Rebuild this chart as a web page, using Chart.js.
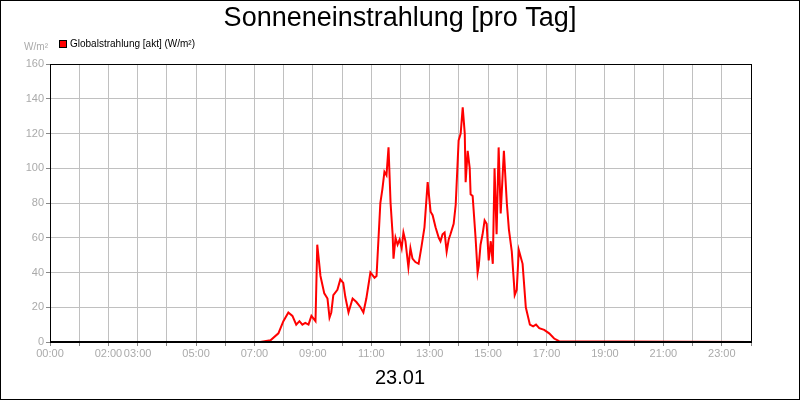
<!DOCTYPE html>
<html>
<head>
<meta charset="utf-8">
<script src="https://cdn.jsdelivr.net/npm/chart.js@4"></script>
<style>
  html, body { margin: 0; padding: 0; background: #fff; }
  #wrap { width: 800px; height: 400px; box-sizing: border-box; border: 1px solid #000; }
</style>
</head>
<body>
<div id="wrap"><canvas id="c" width="798" height="398"></canvas></div>
<script>
// time in hours, value in W/m²
const hours = [0, 7.2, 7.55, 7.82, 7.99, 8.16, 8.3, 8.43, 8.54, 8.64, 8.74, 8.85, 8.95, 9.09, 9.15, 9.26, 9.39, 9.5, 9.57, 9.63, 9.7, 9.84, 9.94, 10.04, 10.11, 10.22, 10.36, 10.49, 10.63, 10.73, 10.83, 10.97, 11.11, 11.18, 11.31, 11.38, 11.45, 11.52, 11.59, 11.66, 11.73, 11.76, 11.83, 11.9, 11.97, 12.04, 12.1, 12.17, 12.27, 12.34, 12.41, 12.51, 12.62, 12.72, 12.82, 12.93, 13.03, 13.1, 13.2, 13.31, 13.37, 13.44, 13.51, 13.58, 13.65, 13.71, 13.82, 13.89, 13.99, 14.06, 14.13, 14.2, 14.23, 14.3, 14.37, 14.4, 14.47, 14.57, 14.64, 14.68, 14.74, 14.81, 14.88, 14.95, 15.02, 15.09, 15.16, 15.22, 15.29, 15.36, 15.43, 15.54, 15.64, 15.71, 15.81, 15.88, 15.91, 15.98, 16.05, 16.18, 16.29, 16.43, 16.54, 16.64, 16.75, 16.92, 17.09, 17.26, 17.43, 24];
const radiation = [0, 0, 1, 5, 12, 17, 15, 10, 12, 10, 11, 10, 15, 12, 56, 38, 28, 25, 14, 17, 27, 30, 36, 34, 26, 17, 25, 23, 20, 17, 25, 40, 37, 38, 80, 88, 98, 96, 112, 80, 62, 48, 60, 56, 59, 54, 63, 58, 43, 54, 48, 46, 45, 55, 66, 92, 75, 73, 66, 60, 58, 62, 63, 52, 59, 62, 68, 79, 116, 120, 135, 120, 92, 110, 100, 85, 84, 60, 40, 44, 56, 62, 70, 68, 47, 58, 45, 100, 62, 112, 74, 110, 80, 65, 52, 35, 27, 30, 53, 45, 20, 10, 9, 10, 8, 7, 5, 2, 0.5, 0];
const hourLabels = [0, 2, 3, 5, 7, 9, 11, 13, 15, 17, 19, 21, 23];
const yTicks = [0, 20, 40, 60, 80, 100, 120, 140, 160];

const points = hours.map((h, i) => ({ x: h, y: radiation[i] }));
const FONT = 'Liberation Sans, Arial, sans-serif';

const texts = {
  id: 'texts',
  afterDraw(chart) {
    const { ctx, chartArea: a } = chart;
    ctx.save();
    // plot frame
    ctx.strokeStyle = '#000';
    ctx.lineWidth = 1;
    ctx.strokeRect(a.left + 0.5, a.top + 0.5, a.right - a.left, a.bottom - a.top);
    ctx.lineWidth = 2;
    ctx.beginPath();
    ctx.moveTo(a.left, a.bottom);
    ctx.lineTo(a.right, a.bottom);
    ctx.stroke();

    ctx.fillStyle = '#000';
    ctx.textAlign = 'center';
    ctx.textBaseline = 'middle';
    ctx.font = '27px ' + FONT;
    ctx.fillText('Sonneneinstrahlung [pro Tag]', 399, 18);
    ctx.font = '20px ' + FONT;
    ctx.fillText('23.01', 399, 377);

    ctx.fillStyle = '#aaa';
    ctx.font = '10px ' + FONT;
    ctx.textAlign = 'right';
    ctx.fillText('W/m²', 47, 46);

    // legend
    ctx.fillStyle = '#ff0000';
    ctx.fillRect(58, 39, 7, 7);
    ctx.strokeStyle = '#000';
    ctx.lineWidth = 1;
    ctx.strokeRect(58.5, 39.5, 7, 7);
    ctx.fillStyle = '#000';
    ctx.textAlign = 'left';
    ctx.fillText('Globalstrahlung [akt] (W/m²)', 69, 43);
    ctx.restore();
  }
};

new Chart(document.getElementById('c'), {
  type: 'line',
  data: {
    datasets: [{
      data: points,
      borderColor: '#ff0000',
      borderWidth: 2,
      pointRadius: 0,
      tension: 0,
      fill: false
    }]
  },
  options: {
    responsive: false,
    animation: false,
    layout: { padding: { top: 63, right: 48, bottom: 0, left: 0 } },
    plugins: { legend: { display: false }, tooltip: { enabled: false } },
    scales: {
      x: {
        type: 'linear',
        min: 0,
        max: 24,
        afterBuildTicks: s => { s.ticks = Array.from({ length: 25 }, (_, i) => ({ value: i })); },
        afterFit: s => { s.height = 57; },
        ticks: {
          autoSkip: false,
          maxRotation: 0,
          color: '#aaa',
          font: { family: FONT, size: 11 },
          padding: 1,
          callback: v => hourLabels.includes(v) ? String(v).padStart(2, '0') + ':00' : ''
        },
        grid: { color: '#c0c0c0', tickLength: 4, tickColor: '#888' },
        border: { display: false }
      },
      y: {
        min: 0,
        max: 160,
        afterBuildTicks: s => { s.ticks = yTicks.map(v => ({ value: v })); },
        afterFit: s => { s.width = 49; },
        ticks: { color: '#aaa', font: { family: FONT, size: 11 }, padding: 2 },
        grid: { color: '#c0c0c0', tickLength: 4, tickColor: '#888' },
        border: { display: false }
      }
    }
  },
  plugins: [texts]
});
</script>
</body>
</html>
